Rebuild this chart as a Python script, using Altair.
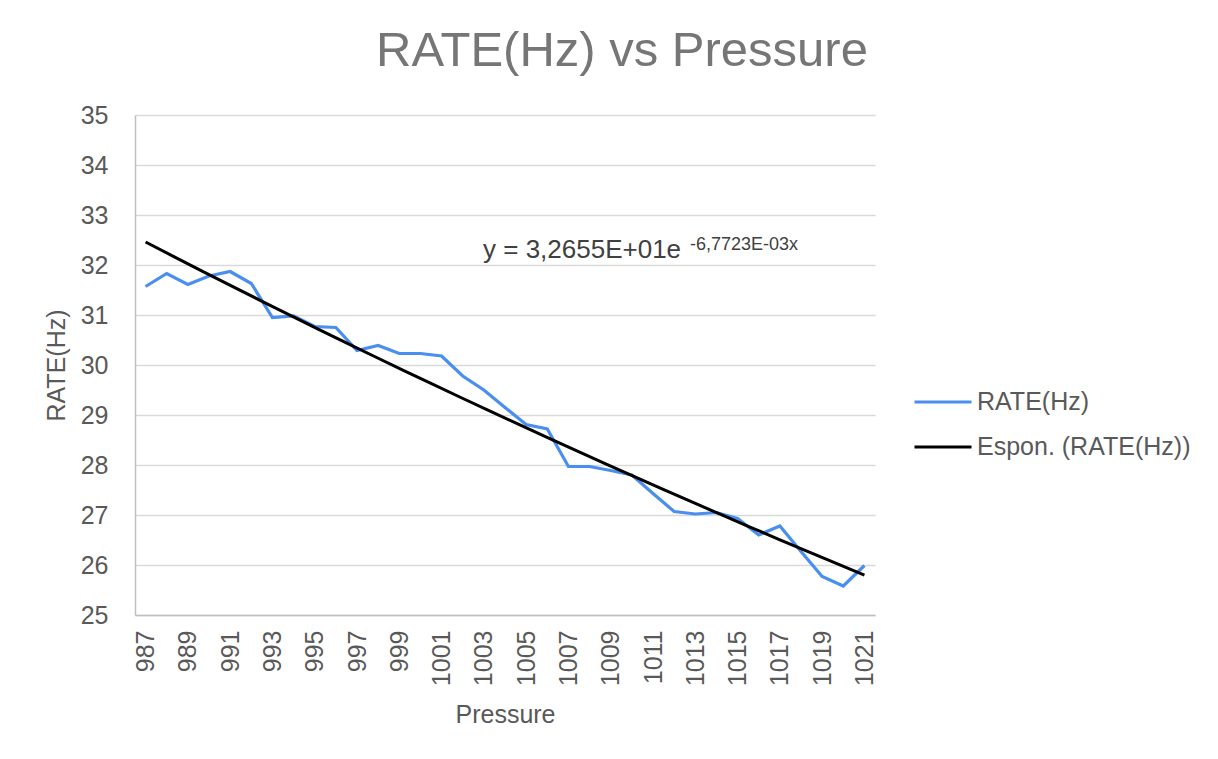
import altair as alt
import pandas as pd

pressure = [987, 988, 989, 990, 991, 992, 993, 994, 995, 996,
            997, 998, 999, 1000, 1001, 1002, 1003, 1004, 1005, 1006,
            1007, 1008, 1009, 1010, 1011, 1012, 1013, 1014, 1015, 1016,
            1017, 1018, 1019, 1020, 1021]
rate = [31.57, 31.83, 31.61, 31.78, 31.87, 31.63, 30.95, 30.98, 30.77, 30.75,
        30.29, 30.39, 30.23, 30.23, 30.18, 29.78, 29.50, 29.15, 28.81, 28.72,
        27.97, 27.97, 27.89, 27.80, 27.43, 27.07, 27.02, 27.05, 26.93, 26.60,
        26.78, 26.27, 25.77, 25.58, 25.99]
x_ticks = [987, 989, 991, 993, 995, 997, 999, 1001, 1003, 1005, 1007, 1009,
           1011, 1013, 1015, 1017, 1019, 1021]
y_ticks = [25, 26, 27, 28, 29, 30, 31, 32, 33, 34, 35]
series_names = ["RATE(Hz)", "Espon. (RATE(Hz))"]
series_colors = ["#4a8ff0", "#000000"]
eq_main = "y = 3,2655E+01e"
eq_sup = "-6,7723E-03x"

FONT = "Liberation Sans"

df = pd.DataFrame({"Pressure": pressure, "RATE": rate})
df["series"] = series_names[0]

x_enc = alt.X("Pressure:Q",
              scale=alt.Scale(domain=[986.5, 1021.5], nice=False, zero=False),
              axis=alt.Axis(values=x_ticks, format="d", labelAngle=-90, grid=False,
                            ticks=False, labelPadding=15, title="Pressure",
                            titlePadding=17, titleFontSize=25, titleFontWeight="normal",
                            titleColor="#595959", labelColor="#595959", labelFontSize=25,
                            labelFont=FONT, titleFont=FONT, domainColor="#bfbfbf",
                            domainWidth=1.5, labelBound=False, labelOverlap=False,
                            labelFlush=False))
y_enc = alt.Y("RATE:Q",
              scale=alt.Scale(domain=[25, 35], nice=False, zero=False),
              axis=alt.Axis(values=y_ticks, grid=True, gridColor="#d9d9d9", gridWidth=1.5,
                            ticks=False, labelPadding=27, title="RATE(Hz)",
                            titlePadding=11, titleFontSize=25, titleFontWeight="normal",
                            titleColor="#595959", labelColor="#595959", labelFontSize=25,
                            labelFont=FONT, titleFont=FONT, domainColor="#bfbfbf",
                            domainWidth=1.5))
color_enc = alt.Color("series:N",
                      scale=alt.Scale(domain=series_names, range=series_colors),
                      legend=alt.Legend(title=None, orient="none", legendX=778, legendY=257,
                                        symbolType="stroke", symbolSize=3249,
                                        symbolStrokeWidth=3, labelFontSize=25,
                                        labelFont=FONT, labelColor="#595959",
                                        labelOffset=4, rowPadding=2, labelLimit=400))

base = alt.Chart(df)

data_line = base.mark_line(strokeWidth=3.2).encode(x=x_enc, y=y_enc, color=color_enc)

trend = base.transform_regression(
    "Pressure", "RATE", method="exp", extent=[987, 1021]
).transform_calculate(series=f"'{series_names[1]}'").mark_line(strokeWidth=3).encode(
    x="Pressure:Q", y="RATE:Q", color=alt.Color("series:N"))

ann_df = pd.DataFrame({"Pressure": [1002.96, 1012.75], "RATE": [32.14, 32.30],
                       "label": [eq_main, eq_sup]})
ann_main = alt.Chart(ann_df.iloc[[0]]).mark_text(
    align="left", baseline="alphabetic", font=FONT, fontSize=26, color="#404040"
).encode(x="Pressure:Q", y="RATE:Q", text="label:N")
ann_sup = alt.Chart(ann_df.iloc[[1]]).mark_text(
    align="left", baseline="alphabetic", font=FONT, fontSize=18, color="#404040"
).encode(x="Pressure:Q", y="RATE:Q", text="label:N")

chart = alt.layer(data_line, trend, ann_main, ann_sup).properties(
    width=740, height=500,
    title=alt.TitleParams("RATE(Hz) vs Pressure", fontSize=49, font=FONT, color="#767676",
                          fontWeight="normal", anchor="middle", frame="group", dx=117,
                          dy=57, baseline="alphabetic", offset=45),
    autosize=alt.AutoSizeParams(type="none"),
    padding={"left": 127, "top": 107, "right": 335, "bottom": 136},
).configure(background="white").configure_view(stroke="transparent", strokeWidth=0)

chart.save("out.html", embed_options={"renderer": "svg", "actions": False})
